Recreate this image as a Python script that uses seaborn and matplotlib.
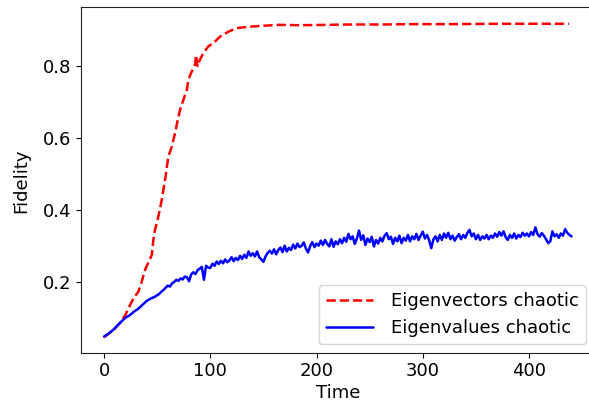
import matplotlib
matplotlib.use("Agg")
import matplotlib.pyplot as plt
import seaborn as sns
import pandas as pd

# ---- data ----
vec_time = [0, 5, 10, 15, 20, 24.5, 28, 32.3, 35, 38.6, 42, 44.9, 46.4, 48, 51.1,
            54.3, 57.4, 60.5, 63.7, 66.8, 69, 71.5, 74, 76.2, 78, 79.3, 82.5, 85.6,
            86.5, 88, 90.3, 93.4, 98.1, 102.8, 109.1, 117, 124.8, 137.3, 153, 164,
            184, 210, 231, 260, 290, 325, 372, 437.7]
vec_fid = [0.045, 0.056, 0.068, 0.085, 0.107, 0.135, 0.155, 0.172, 0.195, 0.233,
           0.255, 0.274, 0.316, 0.345, 0.381, 0.428, 0.483, 0.548, 0.576, 0.613,
           0.645, 0.678, 0.700, 0.720, 0.735, 0.762, 0.785, 0.804, 0.831, 0.800,
           0.818, 0.836, 0.855, 0.864, 0.882, 0.896, 0.906, 0.910, 0.913, 0.915,
           0.914, 0.915, 0.916, 0.916, 0.917, 0.917, 0.918, 0.918]

val_time = list(range(0, 50, 4)) + list(range(50, 441, 2))
val_fid = [
    0.047, 0.055, 0.064, 0.076, 0.088, 0.099, 0.106, 0.116, 0.124, 0.135,
    0.146, 0.153, 0.158,
    # 50 - 98
    0.162, 0.166, 0.172, 0.177, 0.183, 0.189, 0.186, 0.195, 0.199, 0.205,
    0.202, 0.209, 0.206, 0.214, 0.212, 0.201, 0.220, 0.226, 0.221, 0.232,
    0.236, 0.241, 0.205, 0.244, 0.239,
    # 100 - 440
    0.238, 0.250, 0.244, 0.256, 0.249, 0.258, 0.251, 0.262, 0.254, 0.259,
    0.268, 0.257, 0.266, 0.260, 0.272, 0.263, 0.275, 0.266, 0.284, 0.272,
    0.279, 0.270, 0.284, 0.268, 0.262, 0.255, 0.270, 0.280, 0.286, 0.278,
    0.290, 0.276, 0.288, 0.295, 0.282, 0.300, 0.284, 0.294, 0.288, 0.303,
    0.292, 0.306, 0.296, 0.300, 0.309, 0.292, 0.281, 0.299, 0.310, 0.296,
    0.306, 0.300, 0.314, 0.302, 0.316, 0.305, 0.298, 0.318, 0.297, 0.312,
    0.304, 0.318, 0.307, 0.322, 0.311, 0.333, 0.318, 0.326, 0.305, 0.320,
    0.342, 0.316, 0.329, 0.302, 0.320, 0.310, 0.325, 0.298, 0.316, 0.306,
    0.322, 0.312, 0.328, 0.335, 0.318, 0.325, 0.305, 0.322, 0.312, 0.328,
    0.307, 0.322, 0.314, 0.330, 0.312, 0.326, 0.318, 0.333, 0.316, 0.328,
    0.339, 0.320, 0.330, 0.315, 0.293, 0.318, 0.326, 0.312, 0.330, 0.316,
    0.334, 0.322, 0.336, 0.318, 0.328, 0.314, 0.324, 0.332, 0.318, 0.330,
    0.322, 0.336, 0.344, 0.326, 0.334, 0.318, 0.330, 0.316, 0.326, 0.320,
    0.330, 0.318, 0.328, 0.322, 0.334, 0.325, 0.338, 0.328, 0.340, 0.324,
    0.316, 0.330, 0.322, 0.334, 0.320, 0.330, 0.324, 0.336, 0.328, 0.334,
    0.326, 0.338, 0.330, 0.351, 0.332, 0.325, 0.335, 0.328, 0.318, 0.307,
    0.312, 0.340, 0.326, 0.332, 0.322, 0.334, 0.328, 0.346, 0.336, 0.330,
    0.326,
]

labels = ["Eigenvectors chaotic", "Eigenvalues chaotic"]
x_label = "Time"
y_label = "Fidelity"

sns.set_style("ticks")
plt.rcParams["font.family"] = ["DejaVu Sans"]
plt.rcParams["font.size"] = 13
for k in ["text.color", "axes.labelcolor", "xtick.color", "ytick.color"]:
    plt.rcParams[k] = "black"
plt.rcParams["axes.edgecolor"] = "#222222"

fig = plt.figure(figsize=(5.89, 4.03), dpi=100)
ax = fig.add_axes([0.137, 0.123, 0.873, 0.859])

df_vec = pd.DataFrame({"t": vec_time, "f": vec_fid})
df_val = pd.DataFrame({"t": val_time, "f": val_fid})

sns.lineplot(data=df_vec, x="t", y="f", ax=ax, color="red", linestyle="--",
             linewidth=1.8, label=labels[0])
sns.lineplot(data=df_val, x="t", y="f", ax=ax, color="blue", linestyle="-",
             linewidth=1.8, label=labels[1])

ax.set_xlim(-22, 462)
ax.set_ylim(0.0, 0.964)
ax.set_xticks([0, 100, 200, 300, 400])
ax.set_yticks([0.2, 0.4, 0.6, 0.8])
ax.tick_params(labelsize=13, pad=3)
ax.set_xlabel(x_label, fontsize=13, labelpad=2.5)
ax.set_ylabel(y_label, fontsize=13, labelpad=9)
ax.legend(loc="lower right", fontsize=13, handlelength=2.6, handletextpad=1.0)

fig.savefig("out.png", dpi=100)
